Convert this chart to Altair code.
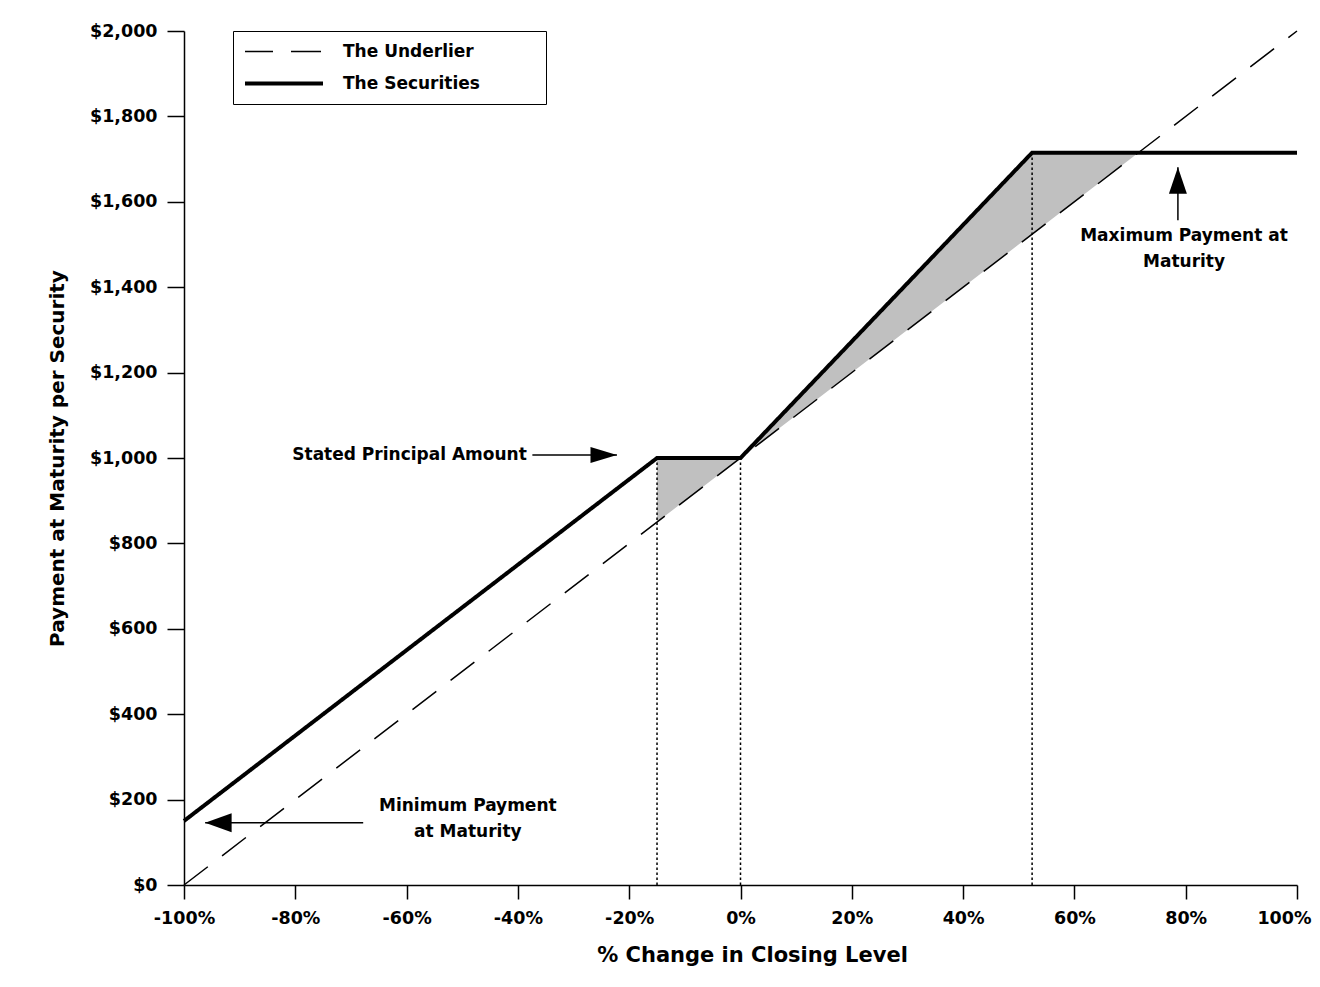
import altair as alt
import pandas as pd

FONT = "DejaVu Sans"

# ---- data ----
series_names = ["The Underlier", "The Securities"]
pct_underlier = [-100, 100]
val_underlier = [0, 2000]
pct_securities = [-100, -15, 0, 52.4, 100]
val_securities = [150, 1000, 1000, 1715, 1715]

shade_pct = [-15, 0, 52.4, 71.5]
shade_upper = [1000, 1000, 1715, 1715]
shade_lower = [850, 1000, 1524, 1715]

guide_pct = [-15, 0, 52.4]
guide_top = [1000, 1000, 1715]

x_ticks = [-100, -80, -60, -40, -20, 0, 20, 40, 60, 80, 100]
y_ticks = [0, 200, 400, 600, 800, 1000, 1200, 1400, 1600, 1800, 2000]

note_right_text = ["Stated Principal Amount"]
note_right_pct = [-38.4]
note_right_val = [1007]

note_center_text = ["Minimum Payment", "at Maturity", "Maximum Payment at", "Maturity"]
note_center_pct = [-49.0, -49.0, 79.7, 79.7]
note_center_val = [185, 124, 1521, 1458]

arrow_dir = ["right", "left", "up"]
arrow_from_pct = [-37.4, -67.8, 78.6]
arrow_from_val = [1007, 146, 1557]
arrow_tip_pct = [-22.2, -96.2, 78.6]
arrow_tip_val = [1007, 146, 1681]

# ---- tables ----
lines_df = pd.DataFrame({
    "pct": pct_underlier + pct_securities,
    "val": val_underlier + val_securities,
    "series": [series_names[0]] * len(pct_underlier) + [series_names[1]] * len(pct_securities),
    "ord": list(range(len(pct_underlier))) + list(range(len(pct_securities))),
})
shade_df = pd.DataFrame({"pct": shade_pct, "hi": shade_upper, "lo": shade_lower})
guide_df = pd.DataFrame({"pct": guide_pct, "top": guide_top, "base": [0] * len(guide_pct)})
note_r_df = pd.DataFrame({"pct": note_right_pct, "val": note_right_val, "txt": note_right_text})
note_c_df = pd.DataFrame({"pct": note_center_pct, "val": note_center_val, "txt": note_center_text})
arrow_df = pd.DataFrame({
    "dir": arrow_dir,
    "x0": arrow_from_pct, "y0": arrow_from_val,
    "x1": arrow_tip_pct, "y1": arrow_tip_val,
})

# ---- scales / axes ----
x_scale = alt.Scale(domain=[-100, 100], nice=False, zero=False)
y_scale = alt.Scale(domain=[0, 2000], nice=False)

x_axis = alt.Axis(
    values=x_ticks, labelExpr="datum.value + '%'", title="% Change in Closing Level",
    grid=False, tickSize=14, tickWidth=1.5, domainWidth=1.5, domainColor="black", tickColor="black",
    labelPadding=10, labelFont=FONT, labelFontSize=17.5, labelFontWeight="bold", labelColor="black",
    labelFlush=False, labelOverlap=False,
    labelAlign={"condition": {"test": "datum.value == 100", "value": "right"}, "value": "center"},
    labelOffset={"condition": {"test": "datum.value == 100", "value": 14}, "value": 0},
    titleFont=FONT, titleFontSize=21, titleFontWeight="bold", titleColor="black",
    titleX=568, titleY=70, titleBaseline="middle", titleAlign="center",
)
y_axis = alt.Axis(
    values=y_ticks, format="$,.0f", title="Payment at Maturity per Security",
    grid=False, tickSize=17, tickWidth=1.5, domainWidth=1.5, domainColor="black", tickColor="black",
    labelPadding=10, labelFont=FONT, labelFontSize=17.5, labelFontWeight="bold", labelColor="black",
    labelFlush=False, labelOverlap=False,
    titleFont=FONT, titleFontSize=20, titleFontWeight="bold", titleColor="black",
    titleAngle=270, titleX=-127, titleY=427, titleBaseline="middle", titleAlign="center",
)


def X(field):
    return alt.X(field, type="quantitative", scale=x_scale, axis=x_axis)


def Y(field):
    return alt.Y(field, type="quantitative", scale=y_scale, axis=y_axis)


pad = "\u00a0" * 9 + "\u200b"
legend = alt.Legend(
    title=None, orient="none", legendX=49, legendY=0, padding=12,
    strokeColor="black", fillColor="white",
    symbolType="stroke", symbolSize=6400, symbolStrokeColor="black", clipHeight=17,
    rowPadding=14, labelOffset=18, symbolOffset=-4, labelLimit=400,
    labelFont=FONT, labelFontSize=17, labelFontWeight="bold", labelColor="black",
    labelExpr="datum.label + '" + pad + "'",
)

area = alt.Chart(shade_df).mark_area(color="#c0c0c0", opacity=1).encode(
    x=X("pct"), y=Y("hi"), y2="lo"
)

guides = alt.Chart(guide_df).mark_rule(color="black", strokeWidth=1.5, strokeDash=[2.5, 2.5]).encode(
    x=X("pct"), y=Y("base"), y2="top"
)

lines = alt.Chart(lines_df).mark_line(color="black").encode(
    x=X("pct"), y=Y("val"),
    order="ord:Q",
    strokeDash=alt.StrokeDash(
        "series:N",
        scale=alt.Scale(domain=series_names, range=[[30, 18], [1, 0]]),
        legend=legend,
    ),
    strokeWidth=alt.StrokeWidth(
        "series:N",
        scale=alt.Scale(type="ordinal", domain=series_names, range=[1.5, 4]),
        legend=legend,
    ),
)

shafts = alt.Chart(arrow_df).mark_rule(color="black", strokeWidth=1.5).encode(
    x=X("x0"), x2="x1", y=Y("y0"), y2="y1"
)

heads = alt.Chart(arrow_df).mark_point(filled=True, color="black", opacity=1, strokeWidth=0, size=700).encode(
    x=X("x1"), y=Y("y1"),
    shape=alt.Shape(
        "dir:N",
        scale=alt.Scale(
            domain=["right", "left", "up"],
            range=["M0,0L-2,-0.6L-2,0.6Z", "M0,0L2,-0.72L2,0.72Z", "M0,0L-0.68,2L0.68,2Z"],
        ),
        legend=None,
    ),
)

notes_r = alt.Chart(note_r_df).mark_text(
    align="right", baseline="middle", font=FONT, fontSize=17, fontWeight="bold", color="black"
).encode(x=X("pct"), y=Y("val"), text="txt:N")

notes_c = alt.Chart(note_c_df).mark_text(
    align="center", baseline="middle", font=FONT, fontSize=17, fontWeight="bold", color="black"
).encode(x=X("pct"), y=Y("val"), text="txt:N")

chart = alt.layer(area, guides, lines, shafts, heads, notes_r, notes_c).properties(
    width=1113, height=854,
    autosize=alt.AutoSizeParams(type="none"),
    padding={"left": 176, "top": 23, "right": 15, "bottom": 94},
    background="white",
).configure_view(stroke=None)

chart.save("out.html", embed_options={"renderer": "svg", "actions": False})
